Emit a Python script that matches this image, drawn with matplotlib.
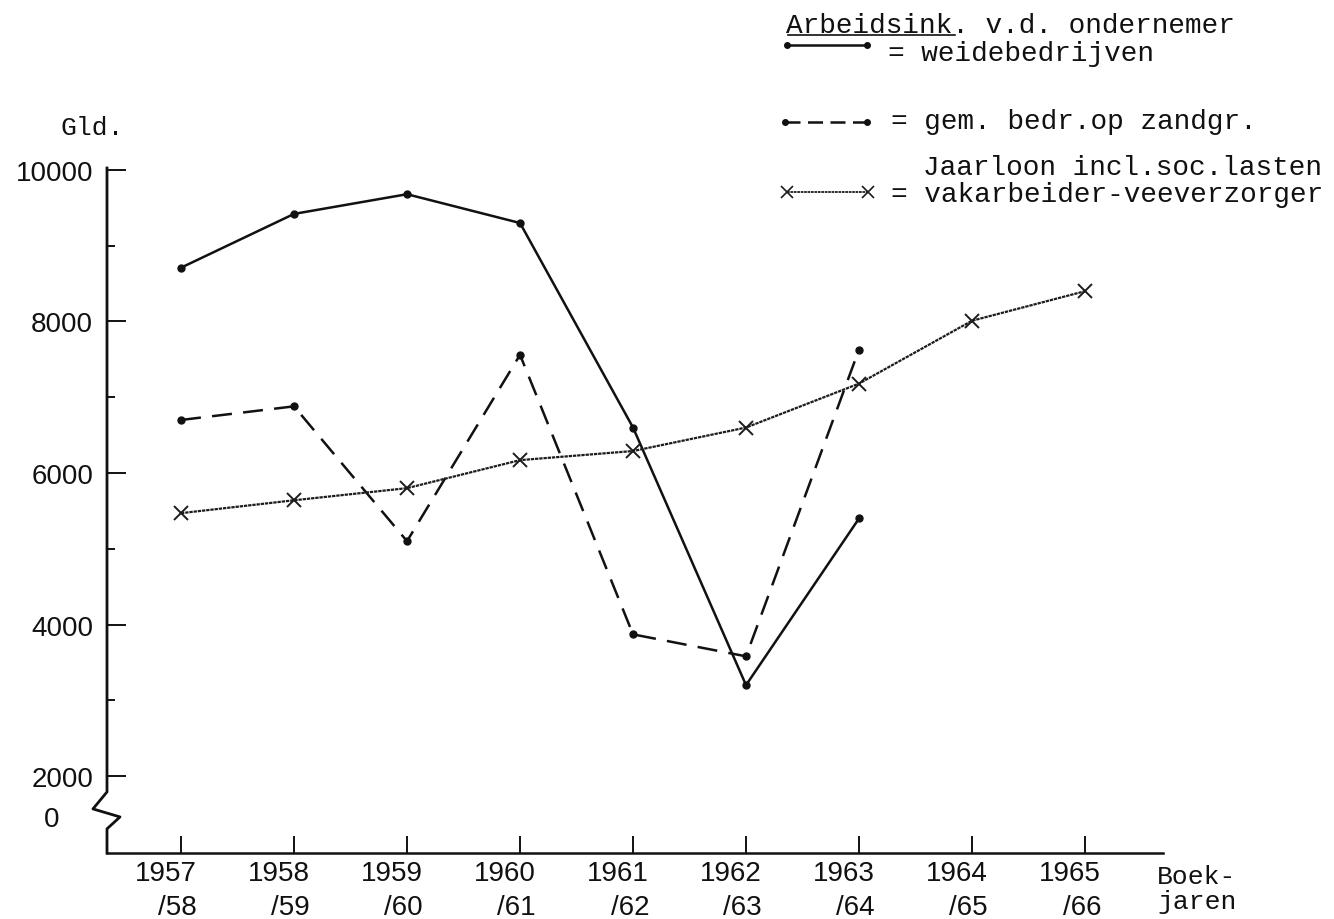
import numpy as np
import matplotlib
matplotlib.use("Agg")
import matplotlib.pyplot as plt
import matplotlib.transforms as mtransforms
from matplotlib.lines import Line2D

# boekjaren (start year of each book year)
jaren = [1957, 1958, 1959, 1960, 1961, 1962, 1963, 1964, 1965]
jaar_labels = ["1957\n/58", "1958\n/59", "1959\n/60", "1960\n/61", "1961\n/62",
               "1962\n/63", "1963\n/64", "1964\n/65", "1965\n/66"]

# arbeidsinkomen v.d. ondernemer, weidebedrijven (1957-1963)
weide = [8710, 9420, 9680, 9300, 6600, 3200, 5400]
# arbeidsinkomen, gem. bedrijven op zandgrond (1957-1963)
zandgr = [6700, 6880, 5100, 7560, 3870, 3580, 7630]
# jaarloon incl. soc. lasten vakarbeider-veeverzorger (1957-1965)
jaarloon = [5470, 5640, 5800, 6170, 6290, 6600, 7180, 8010, 8400]

yticks = [2000, 4000, 6000, 8000, 10000]
yminor = [3000, 5000, 7000, 9000]

W, H = 1334, 920
ink = "#111111"
mono = "Liberation Mono"
lettering = "Liberation Sans"


def px(x, y):
    # pixel position (from top-left) -> figure fraction
    return x / W, 1 - y / H


fig = plt.figure(figsize=(W / 100, H / 100), dpi=100)
fig.patch.set_facecolor("white")
ax = fig.add_axes([107 / W, 1 - 854 / H, 1056 / W, 685 / H])

ax.plot(jaren[:len(weide)], weide, color=ink, lw=1.8, marker="o", ms=5,
        solid_joinstyle="round")
ax.plot(jaren[:len(zandgr)], zandgr, color=ink, lw=1.8, marker="o", ms=5,
        dashes=(8, 4.5))
ax.plot(jaren, jaarloon, color="#1c1c1c", lw=1.6, marker="x", ms=10, mew=1.4,
        linestyle=(0, (1.5, 0.4)))

ax.set_xlim(1956.345, 1965.69)
ax.set_ylim(984, 10026)

for s in ["top", "right", "left"]:
    ax.spines[s].set_visible(False)
ax.spines["bottom"].set_linewidth(1.8)
ax.spines["bottom"].set_color(ink)

# left axis with a break between 2000 and 0
bt = mtransforms.blended_transform_factory(ax.transAxes, ax.transData)
ax.add_line(Line2D([0, 0, -0.0133, 0.0123, 0, 0],
                   [10026, 1790, 1566, 1460, 1303, 984],
                   transform=bt, color=ink, lw=2.0, clip_on=False))
ax.text(-0.052, 1432, "0", transform=bt, ha="center", va="center",
        fontsize=20, family=lettering, color=ink)

ax.set_yticks(yticks)
ax.set_yticks(yminor, minor=True)
ax.set_yticklabels([str(v) for v in yticks], family=lettering, fontsize=20)
ax.tick_params(axis="y", which="major", direction="in", length=14, width=1.4,
               pad=10, colors=ink)
ax.tick_params(axis="y", which="minor", direction="in", length=6, width=1.4,
               colors=ink)

ax.set_xticks(jaren)
ax.set_xticklabels(jaar_labels, family=lettering, fontsize=20, ha="right",
                   ma="right", linespacing=1.38)
ax.tick_params(axis="x", direction="in", length=12, width=1.4, pad=5,
               colors=ink)
shift = mtransforms.ScaledTranslation(0.16, 0, fig.dpi_scale_trans)
for lab in ax.get_xticklabels():
    lab.set_transform(lab.get_transform() + shift)

# axis captions
fig.text(*px(60, 135), "Gld.", family=mono, fontsize=19, color=ink)
fig.text(*px(1157, 884), "Boek-", family=mono, fontsize=19, color=ink)
fig.text(*px(1157, 909), "jaren", family=mono, fontsize=19, color=ink)

# legend block, typed at the top right
fig.text(*px(786, 33), "Arbeidsink. v.d. ondernemer", family=mono,
         fontsize=20, color=ink)
fig.add_artist(Line2D([788 / W, 955 / W], [1 - 36 / H, 1 - 36 / H],
                      color=ink, lw=1.2))
fig.text(*px(888, 61), "= weidebedrijven", family=mono, fontsize=20, color=ink)
fig.text(*px(891, 129), "= gem. bedr.op zandgr.", family=mono, fontsize=20,
         color=ink)
fig.text(*px(923, 175), "Jaarloon incl.soc.lasten", family=mono, fontsize=20,
         color=ink)
fig.text(*px(891, 202), "= vakarbeider-veeverzorger", family=mono,
         fontsize=20, color=ink)

fig.add_artist(Line2D([787 / W, 867 / W], [1 - 46 / H, 1 - 46 / H],
                      color=ink, lw=1.8, marker="o", ms=4, markevery=[0, 1]))
fig.add_artist(Line2D([785 / W, 867 / W], [1 - 123 / H, 1 - 123 / H],
                      color=ink, lw=1.8, marker="o", ms=4, markevery=[0, 1],
                      dashes=(6, 3)))
fig.add_artist(Line2D([787 / W, 868 / W], [1 - 193 / H, 1 - 193 / H],
                      color="#1c1c1c", lw=1.3, marker="x", ms=8, mew=1.2,
                      linestyle=(0, (1.5, 0.4))))

fig.savefig("out.png", dpi=100, facecolor="white")
